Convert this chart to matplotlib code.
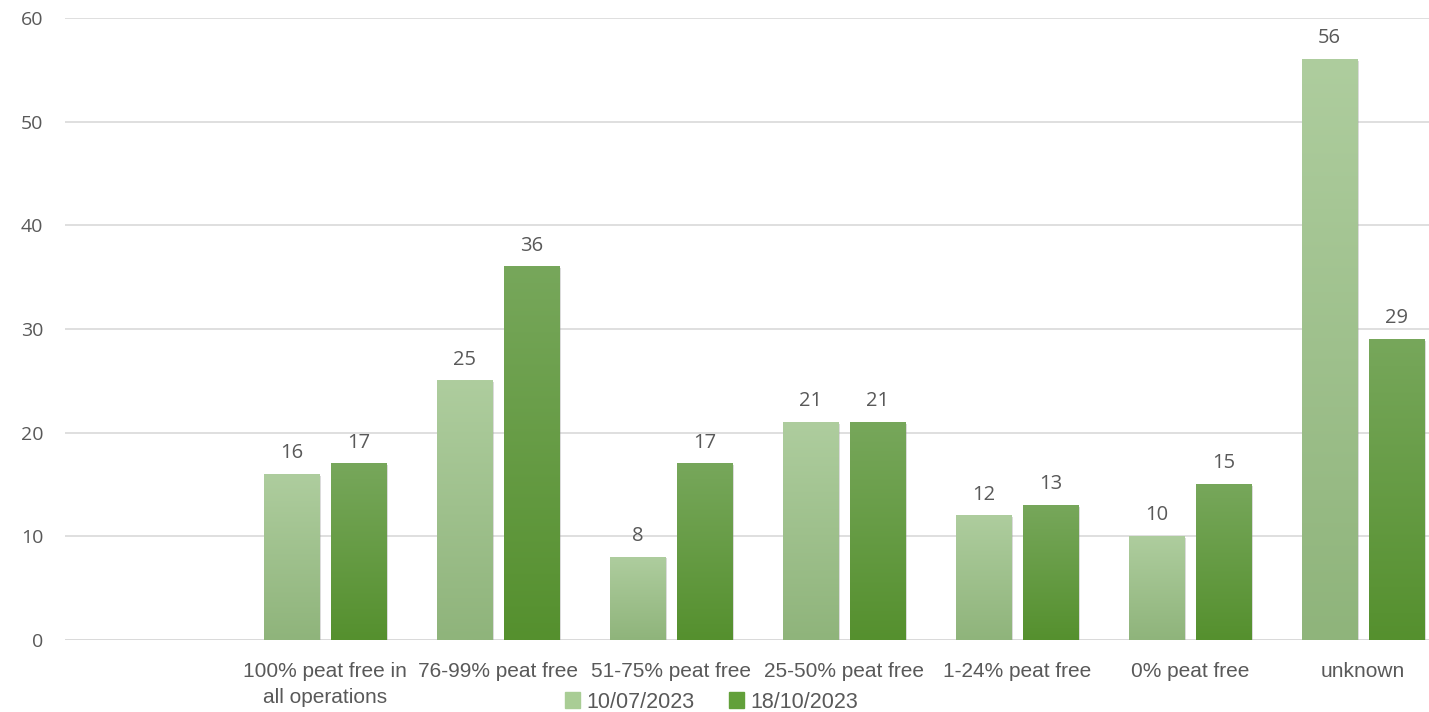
import matplotlib
matplotlib.use("Agg")
import matplotlib.pyplot as plt
import matplotlib.patheffects as pe
from matplotlib.colors import LinearSegmentedColormap
import numpy as np

categories = ["", "100% peat free in\nall operations", "76-99% peat free", "51-75% peat free",
              "25-50% peat free", "1-24% peat free", "0% peat free", "unknown"]
series_names = ["10/07/2023", "18/10/2023"]
values_jul = [np.nan, 16, 25, 8, 21, 12, 10, 56]
values_oct = [np.nan, 17, 36, 17, 21, 13, 15, 29]

grad1 = ("#aecd9e", "#8fb47b")   # top, bottom
grad2 = ("#77a75b", "#55902e")
legend_colors = ["#a9cd95", "#62a03a"]
text_color = "#595959"

fig = plt.figure(figsize=(14.29, 7.12), dpi=100)
ax = fig.add_axes([0.0458, 0.1011, 0.9685, 0.8736])
ax.set_xlim(-0.5, len(categories) - 0.5)
ax.set_ylim(0, 60)
ax.set_yticks(range(0, 61, 10))
ax.yaxis.grid(True, color="#d9d9d9", linewidth=1.2)
ax.set_axisbelow(True)
for s in ax.spines.values():
    s.set_visible(False)
ax.tick_params(axis="y", length=0, pad=16, labelsize=14, labelcolor=text_color)
ax.tick_params(axis="x", length=0, pad=16, labelsize=15, labelcolor=text_color)
for lab in ax.get_yticklabels():
    lab.set_fontfamily(["Open Sans", "DejaVu Sans"])
ax.axhline(0, color="#d9d9d9", linewidth=1.2, zorder=1)

x = np.arange(len(categories))
width = 0.318
offset = 0.193

def draw(series, xs, grad):
    cmap = LinearSegmentedColormap.from_list("g", [grad[1], grad[0]])
    bars = ax.bar(xs, series, width, color=grad[0], zorder=2,
                  path_effects=[pe.SimplePatchShadow(offset=(1.5, -1), shadow_rgbFace="#9a9a9a", alpha=0.35),
                                pe.Normal()])
    for b, v in zip(bars, series):
        if np.isnan(v):
            continue
        x0 = b.get_x()
        grad_img = np.linspace(0, 1, 256).reshape(-1, 1)
        ax.imshow(grad_img, extent=[x0, x0 + b.get_width(), 0, v], origin="lower",
                  aspect="auto", cmap=cmap, zorder=3)
        ax.annotate(f"{int(v)}", (b.get_x() + b.get_width() / 2, v), xytext=(0, 8),
                    textcoords="offset points", ha="center", va="bottom",
                    fontsize=14.5, color=text_color, family=["Open Sans", "DejaVu Sans"])
    return bars

draw(values_jul, x - offset, grad1)
draw(values_oct, x + offset, grad2)
ax.set_xlim(-0.5, len(categories) - 0.5)
ax.set_ylim(0, 60)

ax.set_xticks(x)
ax.set_xticklabels(categories, family=["Liberation Sans Narrow", "Liberation Sans", "DejaVu Sans"],
                   linespacing=1.45)

handles = [plt.Rectangle((0, 0), 1, 1, color=c) for c in legend_colors]
fig.legend(handles, series_names, loc="center", bbox_to_anchor=(0.498, 0.014), ncol=2,
           frameon=False, handlelength=0.7, handleheight=0.7,
           handletextpad=0.3, columnspacing=1.6,
           prop={"family": ["Liberation Sans", "DejaVu Sans"], "size": 15.5},
           labelcolor=text_color)

fig.savefig("out.png", dpi=100)
